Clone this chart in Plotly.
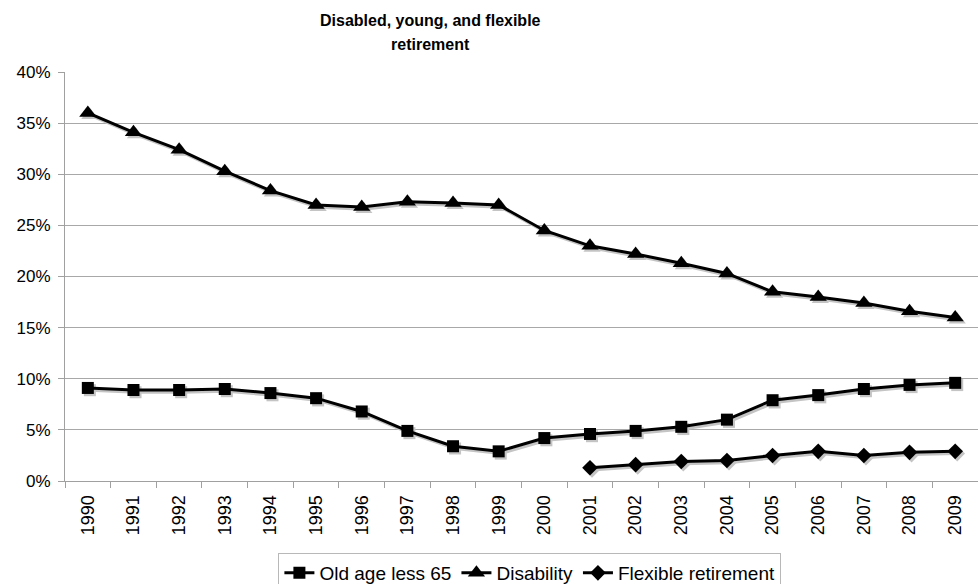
import plotly.graph_objects as go

years = [str(y) for y in range(1990, 2010)]

old_age_less_65 = [9.1, 8.9, 8.9, 9.0, 8.6, 8.1, 6.8, 4.9, 3.4, 2.9,
                   4.2, 4.6, 4.9, 5.3, 6.0, 7.9, 8.4, 9.0, 9.4, 9.6]
disability = [36.0, 34.1, 32.4, 30.3, 28.4, 27.0, 26.8, 27.3, 27.2, 27.0,
              24.5, 23.0, 22.2, 21.3, 20.3, 18.5, 18.0, 17.4, 16.6, 16.0]
flexible_years = [str(y) for y in range(2001, 2010)]
flexible_retirement = [1.3, 1.6, 1.9, 2.0, 2.5, 2.9, 2.5, 2.8, 2.9]

y_ticks = [0, 5, 10, 15, 20, 25, 30, 35, 40]
title_lines = ["Disabled, young, and flexible", "retirement"]

series = [
    ("Old age less 65", years, old_age_less_65, "square", 12),
    ("Disability", years, disability, "triangle-up", 15),
    ("Flexible retirement", flexible_years, flexible_retirement, "diamond", 12),
]

fig = go.Figure()

# soft drop shadow: same series on a hidden base axis pair whose ranges
# are nudged so the lines land a couple of pixels lower and to the right
for name, xs, ys, sym, sz in series:
    fig.add_trace(go.Scatter(
        x=xs, y=ys, mode="lines+markers", xaxis="x", yaxis="y",
        line=dict(color="#c4c4c4", width=3),
        marker=dict(symbol=sym, size=sz, color="#c4c4c4"),
        showlegend=False, hoverinfo="skip"))

# the series themselves on the visible overlay axes
for name, xs, ys, sym, sz in series:
    fig.add_trace(go.Scatter(
        x=xs, y=ys, mode="lines+markers", name=name, xaxis="x2", yaxis="y2",
        line=dict(color="black", width=3),
        marker=dict(symbol=sym, size=sz, color="black")))

font_family = "Liberation Sans, Arial, sans-serif"
axis_grey = "#a0a0a0"

# two-line bold title, one annotation per line for looser line spacing
for i, line in enumerate(title_lines):
    fig.add_annotation(
        text=f"<b>{line}</b>",
        xref="paper", yref="paper",
        x=(430 - 65) / 913, y=(481 - (20 + 25 * i)) / 409,
        xanchor="center", yanchor="middle", showarrow=False,
        font=dict(size=16, family=font_family, color="black"))

fig.update_layout(
    width=978, height=584,
    margin=dict(l=65, r=0, t=72, b=103),
    paper_bgcolor="white", plot_bgcolor="white",
    font=dict(family=font_family, color="black", size=17),
    xaxis=dict(type="category", categoryorder="array", categoryarray=years,
               range=[-0.5 - 0.045, 19.5 - 0.045],
               showgrid=False, showline=False, showticklabels=False,
               ticks="", zeroline=False, fixedrange=True),
    yaxis=dict(range=[0.22, 40.22],
               showgrid=False, showline=False, showticklabels=False,
               ticks="", zeroline=False, fixedrange=True),
    xaxis2=dict(type="category", categoryorder="array", categoryarray=years,
                range=[-0.5, 19.5], overlaying="x", side="bottom",
                tickangle=-90, tickson="boundaries",
                ticks="outside", ticklen=6, tickcolor=axis_grey,
                showline=True, linecolor=axis_grey, linewidth=1,
                showgrid=False, tickfont=dict(size=18),
                ticklabelstandoff=6, fixedrange=True),
    yaxis2=dict(range=[0, 40], overlaying="y", side="left",
                tickvals=y_ticks, ticktext=[f"{v}%" for v in y_ticks],
                ticks="outside", ticklen=6, tickcolor=axis_grey,
                showline=True, linecolor=axis_grey, linewidth=1,
                showgrid=True, gridcolor="#a8a8a8", gridwidth=1,
                zeroline=False, tickfont=dict(size=17),
                ticklabelstandoff=4, fixedrange=True),
    legend=dict(orientation="h", x=498 / 978, xanchor="center",
                yref="container", y=1 - 553 / 584, yanchor="top",
                bordercolor="#b8b8b8", borderwidth=1,
                font=dict(size=19), tracegroupgap=0),
    showlegend=True,
)

fig.write_html("out.html")
